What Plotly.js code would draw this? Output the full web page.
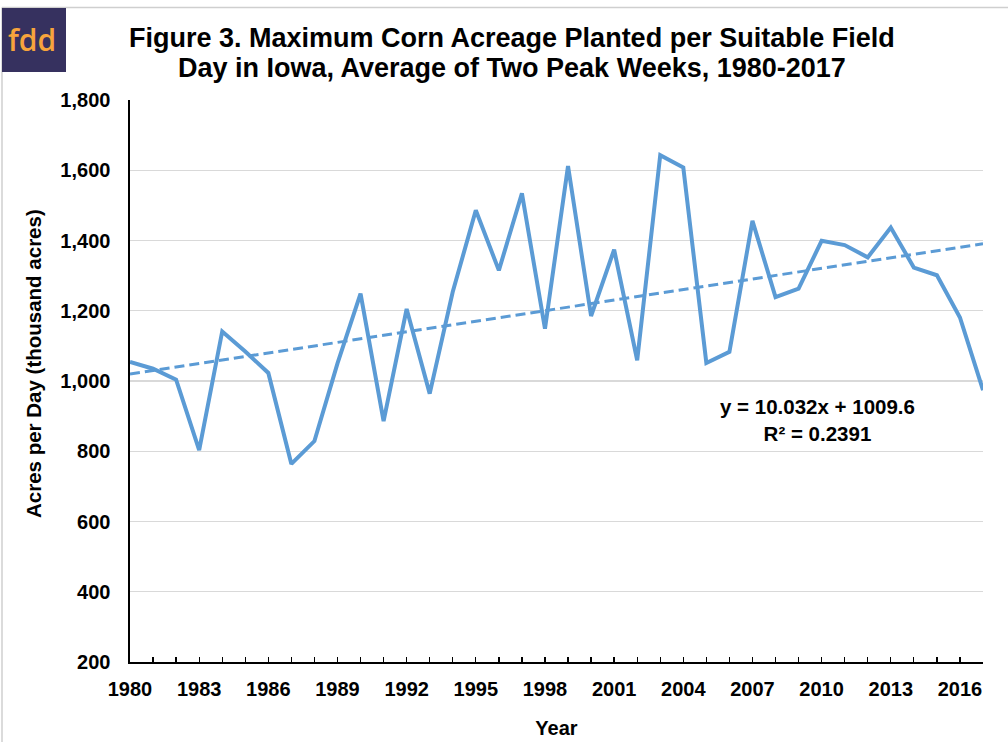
<!DOCTYPE html>
<html>
<head>
<meta charset="utf-8">
<script src="https://cdn.plot.ly/plotly-3.0.1.min.js"></script>
<style>
html,body{margin:0;padding:0;background:#fff;}
#chart{width:1008px;height:742px;}
</style>
</head>
<body>
<div id="chart"></div>
<script>
// ---- Data ----
const years = [1980,1981,1982,1983,1984,1985,1986,1987,1988,1989,
               1990,1991,1992,1993,1994,1995,1996,1997,1998,1999,
               2000,2001,2002,2003,2004,2005,2006,2007,2008,2009,
               2010,2011,2012,2013,2014,2015,2016,2017];
const acresPerDay = [1054,1035,1004,803,1141,1084,1023,764,829,1050,
                     1249,886,1205,964,1254,1486,1315,1534,1149,1612,
                     1185,1374,1059,1643,1608,1051,1083,1456,1239,1263,
                     1399,1387,1352,1437,1323,1301,1181,974];
const trendSlope = 10.032;
const trendIntercept = 1009.6;
const trendR2 = 0.2391;
const xTickVals = [1980,1983,1986,1989,1992,1995,1998,2001,2004,2007,2010,2013,2016];
const yTickVals = [200,400,600,800,1000,1200,1400,1600,1800];
const titleLines = ['Figure 3. Maximum Corn Acreage Planted per Suitable Field',
                    'Day in Iowa, Average of Two Peak Weeks, 1980-2017'];
const yTitle = 'Acres per Day (thousand acres)';
const xTitle = 'Year';

const trendY = years.map((yr, i) => trendSlope * (i + 1) + trendIntercept);

const blue = '#5B9BD5';
const traces = [
  {x: years, y: acresPerDay, type: 'scatter', mode: 'lines',
   line: {color: blue, width: 4}, hoverinfo: 'x+y'},
  {x: years, y: trendY, type: 'scatter', mode: 'lines',
   line: {color: blue, width: 3, dash: '10px,5px'}, hoverinfo: 'skip'}
];

const W = 1008, H = 742, L = 130, R = 25, T = 100, B = 80;
const pw = W - L - R, ph = H - T - B;
const px = v => (v - L) / pw;
const py = v => (H - B - v) / ph;

const FAM = 'Liberation Sans, Arial, sans-serif';
const tickFont = {family: FAM, size: 20, color: '#000', weight: 'bold'};

const layout = {
  width: W, height: H,
  margin: {l: L, r: R, t: T, b: B, pad: 0},
  paper_bgcolor: '#fff', plot_bgcolor: '#fff',
  showlegend: false,
  font: {family: FAM, color: '#000'},
  xaxis: {
    range: [1980, 2017], tickmode: 'array', tickvals: xTickVals,
    ticks: 'inside', ticklen: 5, tickwidth: 1.3, tickcolor: '#000',
    minor: {dtick: 1, tick0: 1980, ticks: 'inside', ticklen: 5, tickwidth: 1.3, tickcolor: '#000', showgrid: false},
    showline: true, linecolor: '#000', linewidth: 1.6, showgrid: false, zeroline: false,
    tickfont: tickFont, ticklabelstandoff: 8,
    title: {text: '<b>' + xTitle + '</b>', font: {family: FAM, size: 20, color: '#000'}, standoff: 22}
  },
  yaxis: {
    range: [200, 1800], tickmode: 'array', tickvals: yTickVals, tickformat: ',',
    showline: true, linecolor: '#000', linewidth: 1.6,
    showgrid: true, gridcolor: '#d9d9d9', gridwidth: 1.3, zeroline: false,
    ticks: '', tickfont: tickFont, ticklabelstandoff: 14
  },
  shapes: [
    {type: 'line', xref: 'paper', yref: 'paper', x0: px(2), x1: px(1010), y0: py(7.5), y1: py(7.5), line: {color: '#cfcfcf', width: 1.5}},
    {type: 'line', xref: 'paper', yref: 'paper', x0: px(2), x1: px(2), y0: py(7.5), y1: py(745), line: {color: '#cfcfcf', width: 1.5}},
    {type: 'rect', xref: 'paper', yref: 'paper', x0: px(2), x1: px(66), y0: py(72), y1: py(8), fillcolor: '#36315f', line: {width: 0}}
  ],
  annotations: [
    {text: titleLines[0], xref: 'paper', yref: 'paper', x: px(511.5), y: py(38), xanchor: 'center', yanchor: 'middle',
     showarrow: false, font: {family: FAM, size: 27, color: '#000', weight: 'bold'}},
    {text: titleLines[1], xref: 'paper', yref: 'paper', x: px(511.5), y: py(68), xanchor: 'center', yanchor: 'middle',
     showarrow: false, font: {family: FAM, size: 27, color: '#000', weight: 'bold'}},
    {text: '<b>' + yTitle + '</b>', xref: 'paper', yref: 'paper', x: px(33), y: py(364), xanchor: 'center', yanchor: 'middle',
     textangle: -90, showarrow: false, font: {family: FAM, size: 20.5, color: '#000'}},
    {text: 'fdd', xref: 'paper', yref: 'paper', x: px(31.5), y: py(39), xanchor: 'center', yanchor: 'middle',
     showarrow: false, font: {family: 'Open Sans, DejaVu Sans, sans-serif', size: 30, color: '#f7a43c', weight: 600}},
    {text: '<b>y = ' + trendSlope.toFixed(3) + 'x + ' + trendIntercept.toFixed(1) + '<br>R² = ' + trendR2.toFixed(4) + '</b>',
     xref: 'paper', yref: 'paper', x: px(817.5), y: py(420), xanchor: 'center', yanchor: 'middle',
     showarrow: false, align: 'center', font: {family: FAM, size: 20.5, color: '#000'}}
  ]
};

Plotly.newPlot('chart', traces, layout, {displayModeBar: false, staticPlot: true});
</script>
</body>
</html>
